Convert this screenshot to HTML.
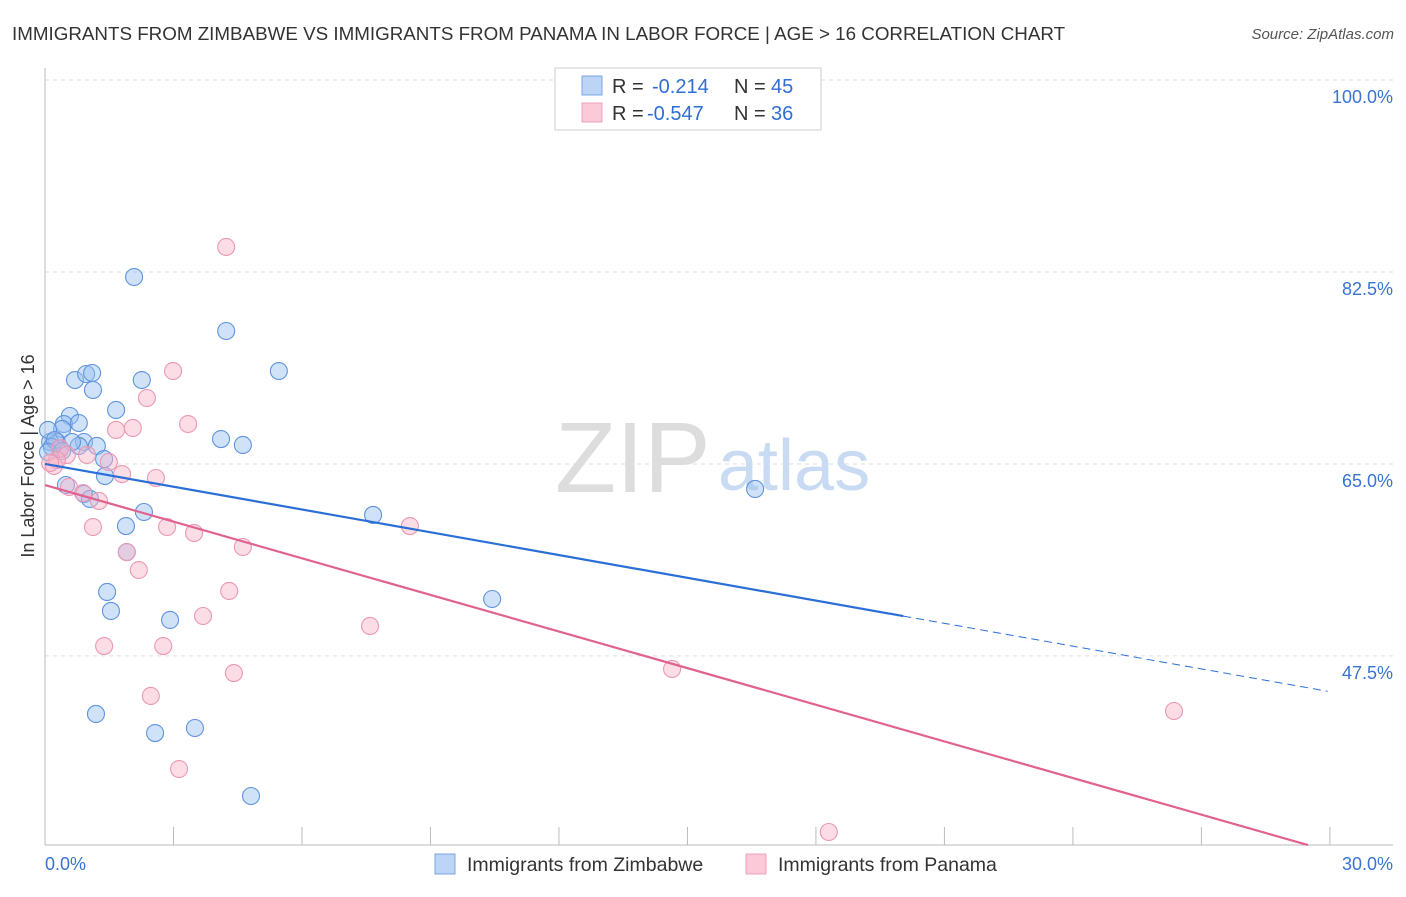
<!DOCTYPE html>
<html><head><meta charset="utf-8"><style>
body{margin:0;background:#fff;font-family:"Liberation Sans",sans-serif;}
svg text{font-family:"Liberation Sans",sans-serif;}
</style></head><body>
<svg id="c" width="1406" height="892" xmlns="http://www.w3.org/2000/svg">
<text x="12" y="40" font-size="18.8" fill="#333">IMMIGRANTS FROM ZIMBABWE VS IMMIGRANTS FROM PANAMA IN LABOR FORCE | AGE &gt; 16 CORRELATION CHART</text>
<text x="1394" y="39" font-size="15" fill="#555" text-anchor="end" font-style="italic">Source: ZipAtlas.com</text>
<text x="34" y="456" font-size="18" fill="#333" text-anchor="middle" transform="rotate(-90 34 456)">In Labor Force | Age &gt; 16</text>
<g id="grid"></g>
<text x="555" y="492" font-size="100" fill="#ddd" font-family="Liberation Serif">ZIP</text>
<text x="718" y="490" font-size="72" fill="#c9dbf2">atlas</text>
<g id="pts"></g>
<g id="trend"></g>
<g>
<rect x="555" y="68" width="266" height="62" fill="#fff" stroke="#ccc"/>
<rect x="582" y="76" width="20" height="19" fill="#bcd4f5" stroke="#7aa6e6"/>
<rect x="582" y="103" width="20" height="19" fill="#fcc9d8" stroke="#f0a0ba"/>
<text x="612" y="93" font-size="20" fill="#333">R = </text><text x="652" y="93" font-size="20" fill="#2f6fd4">-0.214</text>
<text x="734" y="93" font-size="20" fill="#333">N = </text><text x="771" y="93" font-size="20" fill="#2f6fd4">45</text>
<text x="612" y="120" font-size="20" fill="#333">R = </text><text x="647" y="120" font-size="20" fill="#2f6fd4">-0.547</text>
<text x="734" y="120" font-size="20" fill="#333">N = </text><text x="771" y="120" font-size="20" fill="#2f6fd4">36</text>
</g>
<g>
<rect x="435" y="854" width="20" height="20" fill="#bcd4f5" stroke="#7aa6e6"/>
<text x="467" y="871" font-size="19.5" fill="#333">Immigrants from Zimbabwe</text>
<rect x="746" y="854" width="20" height="20" fill="#fcc9d8" stroke="#f0a0ba"/>
<text x="778" y="871" font-size="19.5" fill="#333">Immigrants from Panama</text>
</g>
</svg>
<script>
const blueX=[2.08,4.23,5.46,0.70,0.96,1.10,2.26,1.12,1.66,0.58,0.44,0.79,0.40,0.28,0.12,0.07,0.91,1.21,0.79,0.35,1.38,4.11,4.62,1.40,0.49,0.91,1.05,2.31,1.89,1.91,7.66,1.45,1.54,2.92,10.44,1.19,2.57,3.50,4.81,16.58,0.16,0.23,0.63,0.07,0.40];
const blueY=[82.04,77.12,73.47,72.65,73.20,73.29,72.65,71.74,69.92,69.37,68.64,68.73,68.19,67.00,67.00,68.10,67.00,66.64,66.64,66.36,65.45,67.27,66.73,63.90,63.08,62.26,61.81,60.62,59.34,56.97,60.35,53.33,51.60,50.78,52.69,42.21,40.47,40.93,34.73,62.72,66.55,67.18,67.00,66.09,66.18];
const pinkX=[4.23,2.99,2.38,3.34,1.66,2.05,0.98,0.35,0.51,1.49,1.80,2.59,0.21,0.56,0.89,1.26,1.12,2.85,3.48,4.62,1.91,2.19,4.30,3.69,7.59,8.52,1.38,2.76,2.47,4.41,3.13,14.64,26.36,18.30,0.28,0.12];
const pinkY=[84.78,73.47,71.01,68.64,68.10,68.28,65.82,66.45,65.82,65.18,64.08,63.72,64.81,62.90,62.35,61.63,59.25,59.25,58.71,57.43,56.97,55.33,53.42,51.14,50.23,59.34,48.40,48.40,43.85,45.94,37.19,46.31,42.48,31.45,65.36,65.09];
const yTicks=[100,82.5,65,47.5];
const yTickLabels=["100.0%","82.5%","65.0%","47.5%"];
const xTicks=[0,3,6,9,12,15,18,21,24,27,30];
const blueTrend=[65.0,-0.692,20.04,29.95];
const pinkTrend=[63.08,-1.113,29.49];
const NS="http://www.w3.org/2000/svg";
const X=v=>45+v*42.83, Y=v=>80+(100-v)*10.97;
function mk(t,a,p){const e=document.createElementNS(NS,t);for(const k in a)e.setAttribute(k,a[k]);p.appendChild(e);return e;}
const g=document.getElementById('grid');
yTicks.forEach((t,i)=>{
 const l=mk('line',{x1:45,x2:1393,y1:Y(t),y2:Y(t),stroke:'#ddd','stroke-dasharray':'4,4'},g);
 
 
 const tx=mk('text',{x:1393,y:Y(t)+23,'font-size':18,fill:'#3b73d1','text-anchor':'end'},g);
 tx.textContent=yTickLabels[i];
 
 
});
const ax=mk('line',{x1:45,x2:45,y1:68,y2:845,stroke:'#bbb'},g);


const bx=mk('line',{x1:45,x2:1393,y1:845,y2:845,stroke:'#bbb'},g);


xTicks.forEach(t=>{const l=mk('line',{x1:X(t),x2:X(t),y1:827,y2:845,stroke:'#bbb'},g);
 
 });
const x0=mk('text',{x:45,y:870,'font-size':18,fill:'#3b73d1'},g);x0.textContent='0.0%';


const x1=mk('text',{x:1393,y:870,'font-size':18,fill:'#3b73d1','text-anchor':'end'},g);x1.textContent='30.0%';


const p=document.getElementById('pts');
blueX.forEach((v,i)=>{const c=mk('circle',{cx:X(v),cy:Y(blueY[i]),r:8.5,fill:'rgba(150,190,240,0.45)',stroke:'#5f94de','stroke-width':1.1},p);
 
 });
pinkX.forEach((v,i)=>{const c=mk('circle',{cx:X(v),cy:Y(pinkY[i]),r:8.5,fill:'rgba(248,180,200,0.45)',stroke:'#eb98b4','stroke-width':1.1},p);
 
 });
const tr=document.getElementById('trend');
const b=blueTrend;
let l1=mk('line',{x1:X(0),y1:Y(b[0]),x2:X(b[2]),y2:Y(b[0]+b[1]*b[2]),stroke:'#2b6fd6','stroke-width':2.2},tr);


let l2=mk('line',{x1:X(b[2]),y1:Y(b[0]+b[1]*b[2]),x2:X(b[3]),y2:Y(b[0]+b[1]*b[3]),stroke:'#2b6fd6','stroke-width':1,'stroke-dasharray':'8,5'},tr);


const q=pinkTrend;
let l3=mk('line',{x1:X(0),y1:Y(q[0]),x2:X(q[2]),y2:Y(q[0]+q[1]*q[2]),stroke:'#e0628f','stroke-width':2.2},tr);


</script>
</body></html>
